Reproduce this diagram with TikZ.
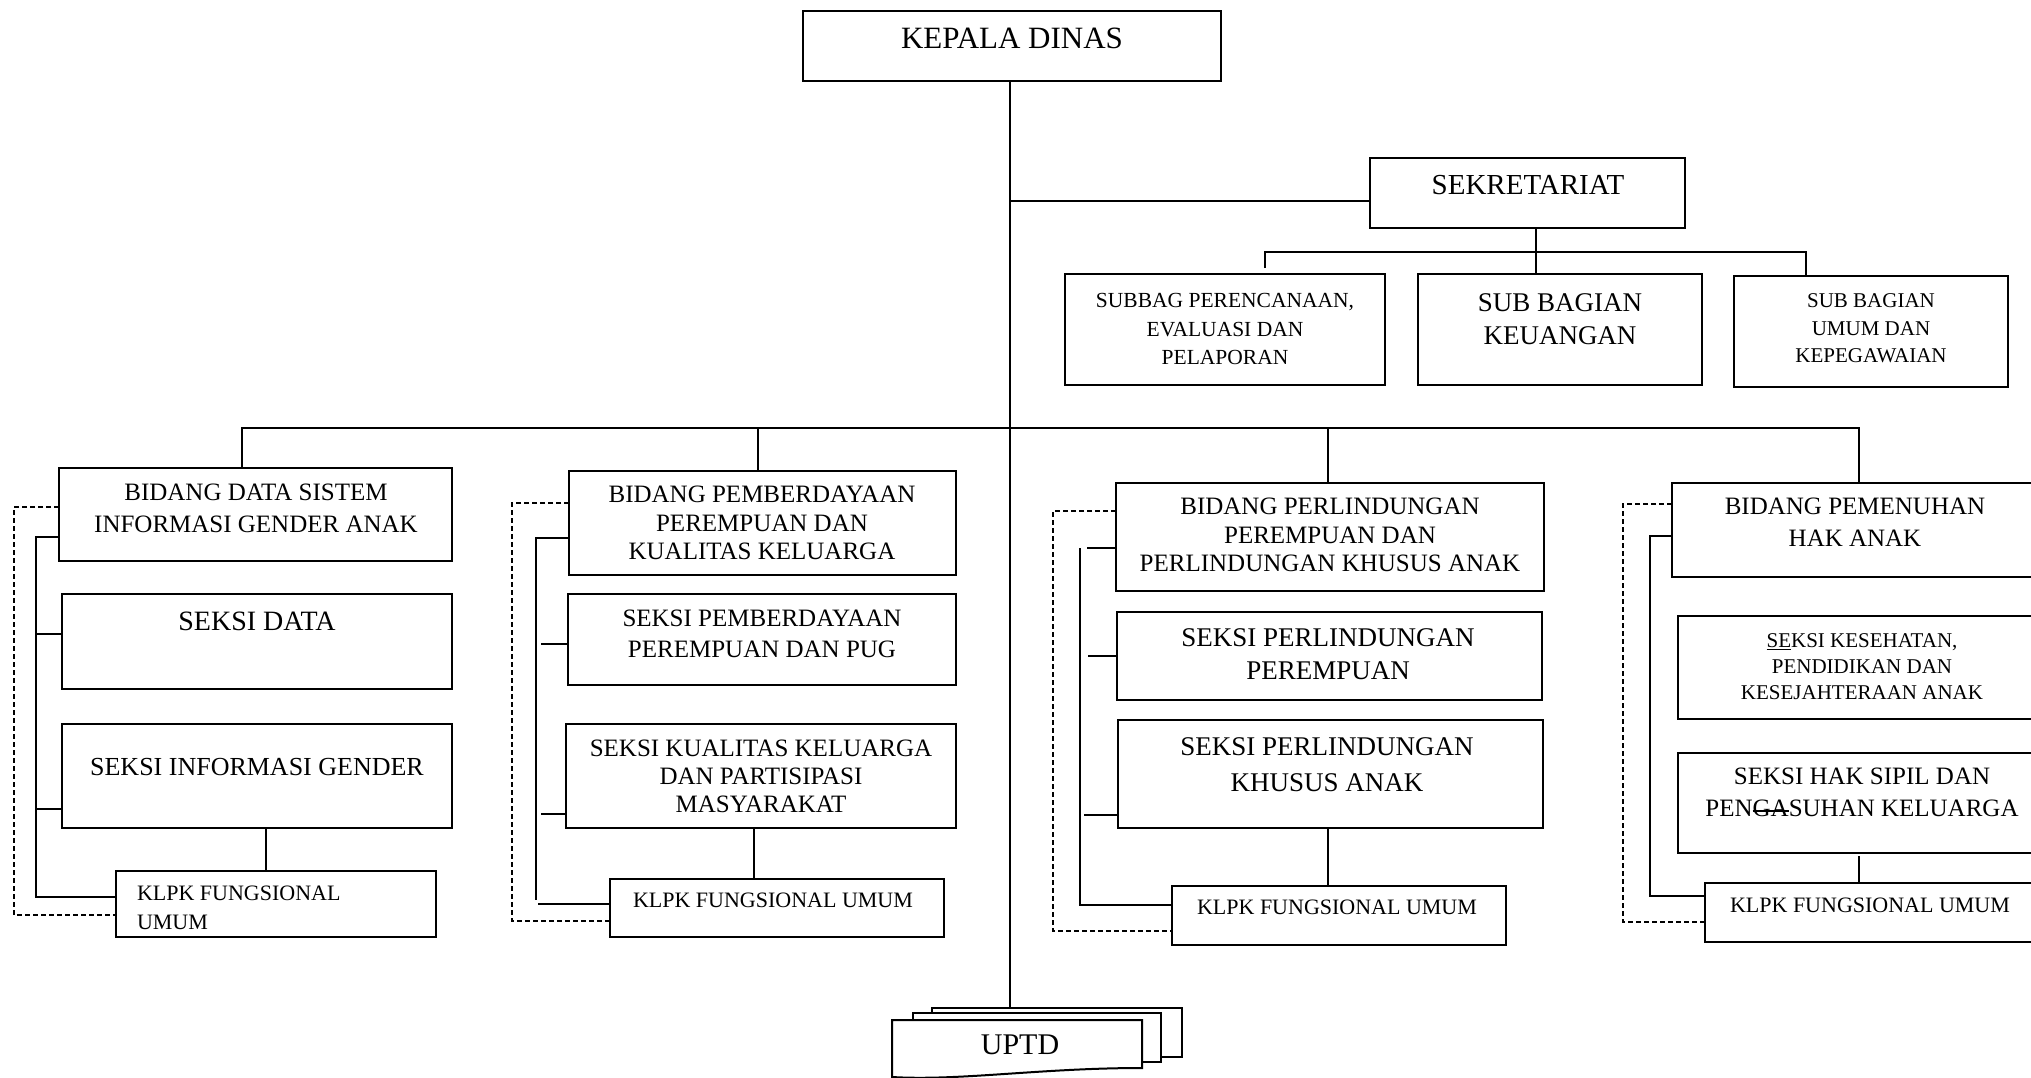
\documentclass[tikz,border=0pt]{standalone}
\usepackage{fontspec}
\setmainfont{Liberation Serif}
\newcommand\fs[2]{\fontsize{#1}{#2}\selectfont}
\newcommand\strk[1]{\setbox0\hbox{#1}\rlap{\rule[0.2em]{\wd0}{1.6pt}}\box0}
\newcommand\obx[5]{\node[boxst, minimum width={(#4-#2)*1pt}, minimum height={(#5-#3)*1pt}] (#1) at ({(#2+#4)/2},{(#3+#5)/2}) {};}
\tikzset{
 boxst/.style={draw, line width=2pt, fill=white, inner sep=0pt, outer sep=0pt},
 ln/.style={line width=2pt},
 dsh/.style={line width=1.8pt, dash pattern=on 5pt off 3pt},
 tx/.style={inner sep=0pt, outer sep=0pt, align=center, anchor=north},
}
\begin{document}
\begin{tikzpicture}[x=1pt,y=-1pt]
\path[use as bounding box] (0,0) rectangle (2031,1078);
\clip (0,0) rectangle (2031,1078);
% ---------- boxes ----------
\obx{KD}{803}{11}{1221}{81}
\obx{SEK}{1370}{158}{1685}{228}
\obx{SP}{1065}{274}{1385}{385}
\obx{SK}{1418}{274}{1702}{385}
\obx{SU}{1734}{276}{2008}{387}
\obx{B1}{59}{468}{452}{561}
\obx{S1a}{62}{594}{452}{689}
\obx{S1b}{62}{724}{452}{828}
\obx{K1}{116}{871}{436}{937}
\obx{B2}{569}{471}{956}{575}
\obx{S2a}{568}{594}{956}{685}
\obx{S2b}{566}{724}{956}{828}
\obx{K2}{610}{879}{944}{937}
\obx{B3}{1116}{483}{1544}{591}
\obx{S3a}{1117}{612}{1542}{700}
\obx{S3b}{1118}{720}{1543}{828}
\obx{K3}{1172}{886}{1506}{945}
\obx{B4}{1672}{483}{2045}{577}
\obx{S4a}{1678}{616}{2045}{719}
\obx{S4b}{1678}{753}{2045}{853}
\obx{K4}{1705}{883}{2045}{942}
% ---------- UPTD stack ----------
\node[boxst, minimum width=250pt, minimum height=49pt] (U3) at (1057,1032.5) {};
\node[boxst, minimum width=248pt, minimum height=49pt] (U2) at (1037,1037.5) {};
\path[draw, line width=2pt, fill=white] (892,1020) -- (1142,1020) -- (1142,1068)
  .. controls (1040,1068) and (960,1081) .. (892,1077) -- cycle;
\node[inner sep=0pt, outer sep=0pt, anchor=base, font=\fs{30}{34}] (tU) at (1020,1054) {UPTD};
% ---------- texts ----------
\node[tx, font=\fs{31}{35}] (tKD) at (1012,28.2) {KEPALA DINAS};
\node[tx, font=\fs{29}{33}] (tSEK) at (1528,175.6) {SEKRETARIAT};
\node[tx, font=\fs{21.5}{28.5}] (tSP) at (1225,293.6) {SUBBAG PERENCANAAN,\\EVALUASI DAN\\PELAPORAN};
\node[tx, font=\fs{27}{33}] (tSK) at (1560,294) {SUB BAGIAN\\KEUANGAN};
\node[tx, font=\fs{21}{27.5}] (tSU) at (1871,294) {SUB BAGIAN\\UMUM DAN\\KEPEGAWAIAN};
\node[tx, font=\fs{25}{32}] (tB1) at (256,484.3) {BIDANG DATA SISTEM\\INFORMASI GENDER ANAK};
\node[tx, font=\fs{28}{32}] (tS1a) at (257,612) {SEKSI DATA};
\node[tx, font=\fs{26}{30}] (tS1b) at (257,758.6) {SEKSI INFORMASI GENDER};
\node[tx, font=\fs{22}{29}, anchor=north west, align=left] (tK1) at (137,886.3) {KLPK FUNGSIONAL\\UMUM};
\node[tx, font=\fs{25}{28.5}] (tB2) at (762,486.3) {BIDANG PEMBERDAYAAN\\PEREMPUAN DAN\\KUALITAS KELUARGA};
\node[tx, font=\fs{25}{31}] (tS2a) at (762,610.3) {SEKSI PEMBERDAYAAN\\PEREMPUAN DAN PUG};
\node[tx, font=\fs{25}{28}] (tS2b) at (761,740.3) {SEKSI KUALITAS KELUARGA\\DAN PARTISIPASI\\MASYARAKAT};
\node[tx, font=\fs{22}{26}] (tK2) at (773,893.3) {KLPK FUNGSIONAL UMUM};
\node[tx, font=\fs{25}{28.5}] (tB3) at (1330,498.3) {BIDANG PERLINDUNGAN\\PEREMPUAN DAN\\PERLINDUNGAN KHUSUS ANAK};
\node[tx, font=\fs{27}{33}] (tS3a) at (1328,628.9) {SEKSI PERLINDUNGAN\\PEREMPUAN};
\node[tx, font=\fs{27}{36}] (tS3b) at (1327,737.9) {SEKSI PERLINDUNGAN\\KHUSUS ANAK};
\node[tx, font=\fs{22}{26}] (tK3) at (1337,900.3) {KLPK FUNGSIONAL UMUM};
\node[tx, font=\fs{25}{32}] (tB4) at (1855,498.3) {BIDANG PEMENUHAN\\HAK ANAK};
\node[tx, font=\fs{21}{26}] (tS4a) at (1862,634) {\underline{SE}KSI KESEHATAN,\\PENDIDIKAN DAN\\KESEJAHTERAAN ANAK};
\node[tx, font=\fs{25}{32}] (tS4b) at (1862,768.3) {SEKSI HAK SIPIL DAN\\PEN\strk{GA}SUHAN KELUARGA};
\node[tx, font=\fs{22}{26}] (tK4) at (1870,898.3) {KLPK FUNGSIONAL UMUM};
% ---------- main connectors ----------
\draw[ln] (KD.south -| 1010,0) -- (1010,0 |- U3.north);
\draw[ln] (1010,201) -- (SEK.west |- 0,201);
\draw[ln] (1536,0 |- SEK.south) -- (1536,0 |- SK.north);
\draw[ln] (1265,268) -- (1265,252) -- (1806,252) -- (1806,0 |- SU.north);
\draw[ln] (B1.north -| 242,0) -- (242,428) -- (1859,428) -- (1859,0 |- B4.north);
\draw[ln] (758,428) -- (758,0 |- B2.north);
\draw[ln] (1328,428) -- (1328,0 |- B3.north);
% ---------- column 1 ----------
\draw[ln] (266,0 |- S1b.south) -- (266,0 |- K1.north);
\draw[ln] (B1.west |- 0,537) -- (36,537) -- (36,897) -- (K1.west |- 0,897);
\draw[ln] (36,634) -- (S1a.west |- 0,634);
\draw[ln] (36,809) -- (S1b.west |- 0,809);
\draw[dsh] (B1.west |- 0,507) -- (14,507) -- (14,915) -- (K1.west |- 0,915);
% ---------- column 2 ----------
\draw[ln] (754,0 |- S2b.south) -- (754,0 |- K2.north);
\draw[ln] (B2.west |- 0,538) -- (536,538) -- (536,900);
\draw[ln] (538,904) -- (K2.west |- 0,904);
\draw[ln] (541,644) -- (S2a.west |- 0,644);
\draw[ln] (541,814) -- (S2b.west |- 0,814);
\draw[dsh] (B2.west |- 0,503) -- (512,503) -- (512,921) -- (K2.west |- 0,921);
% ---------- column 3 ----------
\draw[ln] (1328,0 |- S3b.south) -- (1328,0 |- K3.north);
\draw[ln] (1080,548) -- (1080,905) -- (K3.west |- 0,905);
\draw[ln] (1087,548) -- (B3.west |- 0,548);
\draw[ln] (1088,656) -- (S3a.west |- 0,656);
\draw[ln] (1084,815) -- (S3b.west |- 0,815);
\draw[dsh] (B3.west |- 0,511) -- (1053,511) -- (1053,931) -- (K3.west |- 0,931);
% ---------- column 4 ----------
\draw[ln] (1859,856) -- (1859,0 |- K4.north);
\draw[ln] (B4.west |- 0,536) -- (1650,536) -- (1650,896) -- (K4.west |- 0,896);
\draw[dsh] (B4.west |- 0,504) -- (1623,504) -- (1623,922) -- (K4.west |- 0,922);
\end{tikzpicture}
\end{document}
